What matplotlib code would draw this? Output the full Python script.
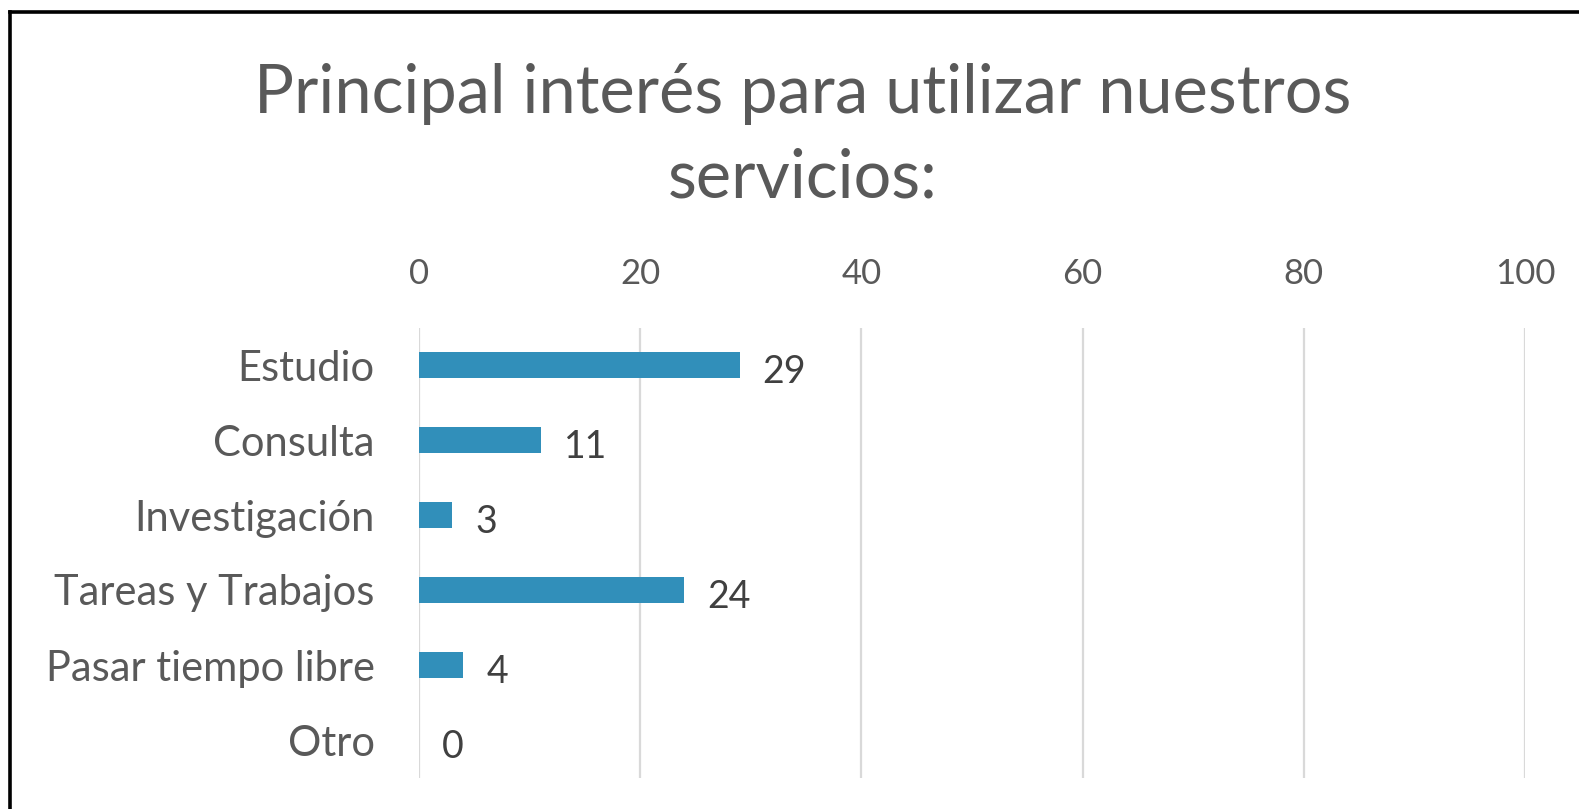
import matplotlib
matplotlib.use("Agg")
import matplotlib.pyplot as plt
from matplotlib.lines import Line2D

# ---- data ----
categories = ["Estudio", "Consulta", "Investigación", "Tareas y Trabajos",
              "Pasar tiempo libre", "Otro"]
values = [29, 11, 3, 24, 4, 0]
x_ticks = [0, 20, 40, 60, 80, 100]
title_lines = ["Principal interés para utilizar nuestros", "servicios:"]

FONT = "Lato"
plt.rcParams["font.family"] = [FONT, "DejaVu Sans"]

W, H, DPI = 1579, 809, 100
fig = plt.figure(figsize=(W / DPI, H / DPI), dpi=DPI)
fig.patch.set_facecolor("white")

# axes placement (pixels -> figure fraction)
left_px, right_px, top_px, bottom_px = 419, 1525, 327.5, 777.5
ax = fig.add_axes([left_px / W, 1 - bottom_px / H,
                   (right_px - left_px) / W, (bottom_px - top_px) / H])

ypos = list(range(len(categories)))
ax.barh(ypos, values, height=0.35, color="#318fba", zorder=3)

ax.set_xlim(0, 100)
ax.set_ylim(len(categories) - 0.5, -0.5)
ax.set_xticks(x_ticks)
ax.set_xticklabels([str(t) for t in x_ticks])
ax.set_yticks(ypos)
ax.set_yticklabels(categories)

ax.xaxis.tick_top()
ax.tick_params(axis="x", length=0, pad=27, labelsize=25, labelcolor="#595959")
ax.tick_params(axis="y", length=0, pad=32, labelsize=30, labelcolor="#595959")
for s in ax.spines.values():
    s.set_visible(False)
ax.grid(axis="x", color="#d9d9d9", linewidth=1.6, zorder=0)
ax.grid(axis="y", visible=False)
ax.set_axisbelow(True)

# data labels
for y, v in zip(ypos, values):
    ax.annotate(str(v), xy=(v, y), xytext=(23, -18), textcoords="offset pixels",
                ha="left", va="baseline", fontsize=27, color="#404040")

# title (two lines)
tx = 803 / W
fig.text(tx, 1 - 113 / H, title_lines[0], ha="center", va="baseline",
         fontsize=48, color="#595959")
fig.text(tx, 1 - 197 / H, title_lines[1], ha="center", va="baseline",
         fontsize=48, color="#595959")

# outer frame (top and left edges visible in the crop)
fig.add_artist(Line2D([10 / W, 1.0], [1 - 11.5 / H, 1 - 11.5 / H],
                      transform=fig.transFigure, color="black", linewidth=2.6))
fig.add_artist(Line2D([10 / W, 10 / W], [1 - 11.5 / H, 0.0],
                      transform=fig.transFigure, color="black", linewidth=2.6))

fig.savefig("out.png", dpi=DPI)
